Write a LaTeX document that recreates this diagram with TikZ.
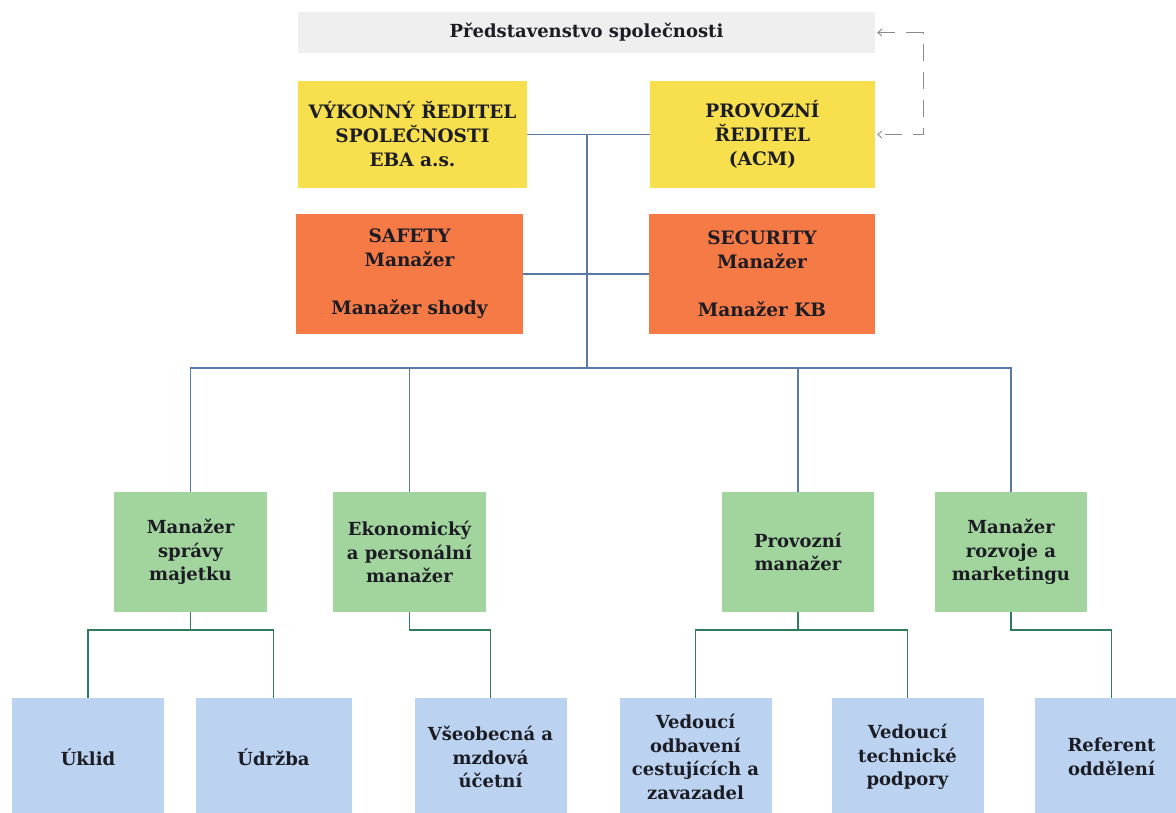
\documentclass[tikz,border=0pt]{standalone}
\usepackage{fontspec}
\setmainfont{DejaVu Serif}
\usetikzlibrary{arrows.meta,calc}
\definecolor{boardgray}{HTML}{EFEFEF}
\definecolor{ceoyellow}{HTML}{F7DF4E}
\definecolor{mgrorange}{HTML}{F57A46}
\definecolor{mgrgreen}{HTML}{A2D59D}
\definecolor{unitblue}{HTML}{BBD3F1}
\definecolor{linkblue}{HTML}{5A7AA6}
\definecolor{linkgreen}{HTML}{2F7B5C}
\definecolor{txt}{HTML}{1C1C24}
\definecolor{dashgray}{HTML}{8A8A8A}
\tikzset{
  box/.style={rectangle, inner sep=0pt, align=center, text=txt, anchor=center,
    font=\fontsize{18.5}{24}\selectfont\bfseries},
  boardbox/.style={box, fill=boardgray, minimum width=577pt, minimum height=41pt,
    font=\fontsize{18}{20}\selectfont\bfseries},
  topbox/.style={box, fill=ceoyellow, minimum height=107pt},
  safebox/.style={box, fill=mgrorange, minimum height=120pt},
  greenbox/.style={box, fill=mgrgreen, minimum width=153pt, minimum height=120pt,
    font=\fontsize{18}{23.5}\selectfont\bfseries},
  bluebox/.style={box, fill=unitblue, minimum width=152pt, minimum height=118pt,
    font=\fontsize{18}{23.5}\selectfont\bfseries},
  upline/.style={draw=linkblue, line width=1.3pt},
  lowline/.style={draw=linkgreen, line width=1.3pt},
  dashlink/.style={draw=dashgray, line width=0.9pt, dash pattern=on 17pt off 11pt,
    {Straight Barb[length=4pt,width=7pt]}-{Straight Barb[length=4pt,width=7pt]}},
}
\begin{document}
\begin{tikzpicture}[x=1pt,y=-1pt]
\useasboundingbox (0,0) rectangle (1176,812);
% nodes
\node[boardbox] (board) at (586.5,32.5) {Představenstvo společnosti};
\node[topbox, minimum width=229pt] (ceo) at (412.5,134.5) {VÝKONNÝ ŘEDITEL\\SPOLEČNOSTI\\EBA a.s.};
\node[topbox, minimum width=225pt] (coo) at (762.5,134.5) {PROVOZNÍ\\ŘEDITEL\\(ACM)};
\node[safebox, minimum width=227pt] (safety) at (409.5,274) {SAFETY\\Manažer\\[24pt]Manažer shody};
\node[safebox, minimum width=226pt] (security) at (762,274) {SECURITY\\Manažer\\[24pt]Manažer KB};
\node[greenbox] (g1) at (190.5,552) {Manažer\\správy\\majetku};
\node[greenbox] (g2) at (409.5,552) {Ekonomický\\a personální\\manažer};
\node[greenbox, minimum width=152pt] (g3) at (798,552) {Provozní\\manažer};
\node[greenbox, minimum width=152pt] (g4) at (1011,552) {Manažer\\rozvoje a\\marketingu};
\node[bluebox] (b1) at (88,757) {Úklid};
\node[bluebox, minimum width=156pt] (b2) at (273.5,757) {Údržba};
\node[bluebox] (b3) at (490.5,757) {Všeobecná a\\mzdová\\účetní};
\node[bluebox] (b4) at (695.5,757) {Vedoucí\\odbavení\\cestujících a\\zavazadel};
\node[bluebox] (b5) at (907.5,757) {Vedoucí\\technické\\podpory};
\node[bluebox, minimum width=153pt] (b6) at (1111.5,757) {Referent\\oddělení};
% coordinates
\coordinate (trunk) at (587,0);
\coordinate (busA) at (0,368);
\coordinate (busB) at (0,630);
\coordinate (rail) at (923,0);
% upper connectors
\draw[upline] (ceo.east) -- (coo.west);
\draw[upline] (safety.east) -- (security.west);
\draw[upline] (ceo.east -| trunk) -- (busA -| trunk);
\draw[upline] (g1.north) -- (g1.north |- busA) -- (g4.north |- busA) -- (g4.north);
\draw[upline] (g2.north |- busA) -- (g2.north);
\draw[upline] (g3.north |- busA) -- (g3.north);
% lower connectors
\draw[lowline] (g1.south) -- (g1.south |- busB);
\draw[lowline] (b1.north) -- (b1.north |- busB) -- (b2.north |- busB) -- (b2.north);
\draw[lowline] (g2.south) -- (g2.south |- busB) -- (b3.north |- busB) -- (b3.north);
\draw[lowline] (g3.south) -- (g3.south |- busB);
\draw[lowline] (b4.north) -- (b4.north |- busB) -- (b5.north |- busB) -- (b5.north);
\draw[lowline] (g4.south) -- (g4.south |- busB) -- (b6.north |- busB) -- (b6.north);
% dashed feedback link
\draw[dashlink] ([xshift=2pt]board.east) -- (board.east -| rail) -- (coo.east -| rail) -- ([xshift=2pt]coo.east);
\end{tikzpicture}
\end{document}
